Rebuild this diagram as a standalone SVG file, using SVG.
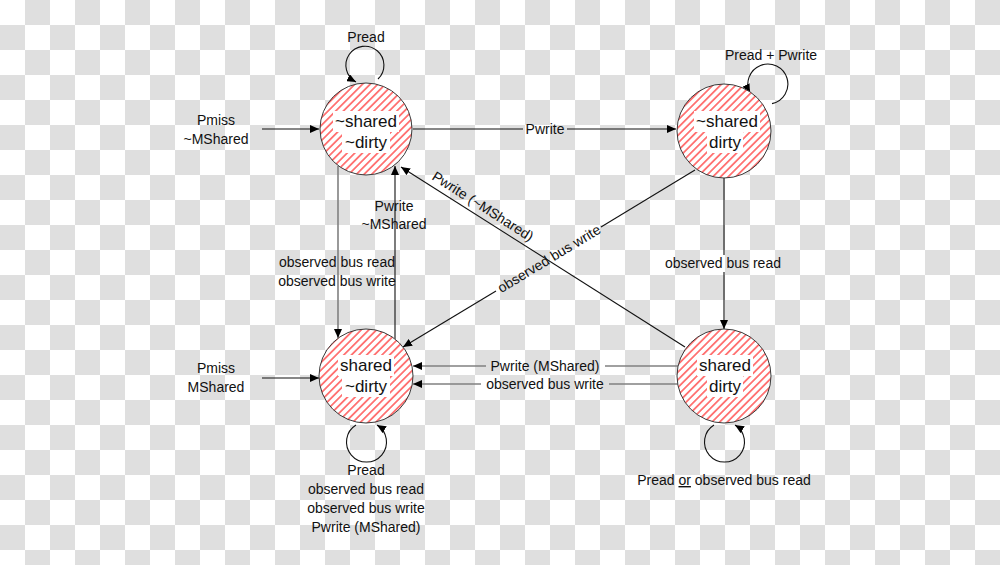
<svg xmlns="http://www.w3.org/2000/svg" width="1000" height="565" viewBox="0 0 1000 565">
<style>
.lbl{font-family:"Liberation Sans",Arial,sans-serif;font-size:14px;fill:#111;text-anchor:middle}
.nt{font-family:"Liberation Sans",Arial,sans-serif;font-size:17px;fill:#111;text-anchor:middle}
.node{fill:url(#hatch);stroke:#3a3a3a;stroke-width:1}
.tb{fill:#fff}
.k{stroke:#111;stroke-width:1.1;fill:none}
.g{stroke:#808080;stroke-width:1.6;fill:none}
.arr{marker-end:url(#ah)}
</style>
<defs>
<pattern id="checker" patternUnits="userSpaceOnUse" width="50" height="50">
<rect width="50" height="50" fill="#fff"/>
<rect x="25" y="0" width="25" height="25" fill="#dfdfdf"/>
<rect x="0" y="25" width="25" height="25" fill="#dfdfdf"/>
</pattern>
<pattern id="hatch" patternUnits="userSpaceOnUse" width="5.4" height="5.4" patternTransform="rotate(45)">
<rect width="5.4" height="5.4" fill="#fff"/>
<line x1="2.7" y1="0" x2="2.7" y2="5.4" stroke="#ff0000" stroke-width="1"/>
</pattern>
<marker id="ah" markerUnits="userSpaceOnUse" markerWidth="10" markerHeight="8" refX="9" refY="4" orient="auto">
<path d="M0,0 L9,4 L0,8 z" fill="#000"/>
</marker>
</defs>
<rect width="1000" height="565" fill="url(#checker)"/>

<g id="connectors">
<line class="k arr" x1="262" y1="129" x2="319" y2="129"/>
<line class="k arr" x1="262" y1="378" x2="319" y2="378"/>
<line class="k" x1="413" y1="129" x2="523" y2="129"/>
<line class="k arr" x1="567" y1="129" x2="676" y2="129"/>
<line class="g arr" x1="338" y1="166" x2="338" y2="338"/>
<line class="k arr" x1="395" y1="339" x2="395" y2="166"/>
<line class="k" x1="724" y1="178" x2="724" y2="255"/>
<line class="k arr" x1="724" y1="272" x2="724" y2="329"/>
<line class="g" x1="678" y1="366" x2="605" y2="366"/>
<line class="g arr" x1="486" y1="366" x2="413" y2="366"/>
<line class="g" x1="678" y1="384" x2="609" y2="384"/>
<line class="g arr" x1="481" y1="384" x2="413" y2="384"/>
<line class="k" x1="695" y1="170" x2="601" y2="227"/>
<line class="k arr" x1="496" y1="291" x2="403" y2="347"/>
<line class="k arr" x1="685" y1="347" x2="401" y2="167"/>
<path class="k arr" d="M 378 79 A 19 19 0 1 0 356 82"/>
<path class="k arr" d="M 772 103.6 A 20 20 0 1 0 750 93"/>
<path class="k arr" d="M 356 425 A 20 20 0 1 0 377 425"/>
<path class="k arr" d="M 714 425 A 20 20 0 1 0 735 425"/>
</g>

<g id="labels">
<text class="lbl" x="366" y="42">Pread</text>
<text class="lbl" x="771" y="60">Pread + Pwrite</text>
<text class="lbl" x="216" y="125">Pmiss</text>
<text class="lbl" x="216" y="144">~MShared</text>
<text class="lbl" x="216" y="373">Pmiss</text>
<text class="lbl" x="216" y="392">MShared</text>
<text class="lbl" x="545" y="134">Pwrite</text>
<text class="lbl" x="394" y="211">Pwrite</text>
<text class="lbl" x="394" y="229">~MShared</text>
<text class="lbl" x="337" y="267">observed bus read</text>
<text class="lbl" x="337" y="286">observed bus write</text>
<text class="lbl" x="723" y="268">observed bus read</text>
<text class="lbl" x="545" y="371">Pwrite (MShared)</text>
<text class="lbl" x="545" y="389">observed bus write</text>
<text class="lbl" transform="translate(549,258.5) rotate(-31.2)" x="0" y="5">observed bus write</text>
<text class="lbl" transform="translate(482.5,207) rotate(32.5)" x="0" y="4">Pwrite (~MShared)</text>
<text class="lbl" x="366" y="475">Pread</text>
<text class="lbl" x="366" y="494">observed bus read</text>
<text class="lbl" x="366" y="513">observed bus write</text>
<text class="lbl" x="366" y="532">Pwrite (MShared)</text>
<text class="lbl" x="724" y="485">Pread <tspan text-decoration="underline">or</tspan> observed bus read</text>
</g>

<g id="node-ns-nd">
<circle class="node" cx="366" cy="129" r="46"/>
<rect class="tb" x="333" y="111" width="66" height="21"/>
<rect class="tb" x="342" y="132" width="48" height="21"/>
<text class="nt" x="366" y="127">~shared</text>
<text class="nt" x="366" y="148">~dirty</text>
</g>
<g id="node-ns-d">
<circle class="node" cx="724" cy="131" r="47"/>
<rect class="tb" x="694" y="111" width="66" height="21"/>
<rect class="tb" x="707" y="132" width="36" height="21"/>
<text class="nt" x="727" y="127">~shared</text>
<text class="nt" x="725" y="148">dirty</text>
</g>
<g id="node-s-nd">
<circle class="node" cx="366" cy="376" r="47"/>
<rect class="tb" x="338" y="355" width="56" height="21"/>
<rect class="tb" x="342" y="376" width="48" height="21"/>
<text class="nt" x="366" y="371">shared</text>
<text class="nt" x="366" y="392">~dirty</text>
</g>
<g id="node-s-d">
<circle class="node" cx="724" cy="376" r="47"/>
<rect class="tb" x="697" y="355" width="56" height="21"/>
<rect class="tb" x="707" y="376" width="36" height="21"/>
<text class="nt" x="725" y="371">shared</text>
<text class="nt" x="725" y="392">dirty</text>
</g>
</svg>
